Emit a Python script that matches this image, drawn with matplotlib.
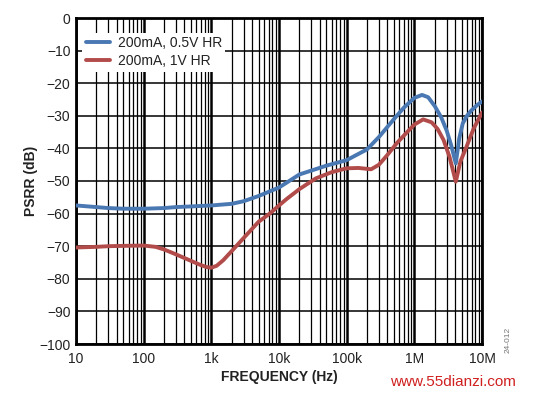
import numpy as np
import matplotlib.pyplot as plt
from matplotlib.ticker import FixedLocator, LogLocator, NullFormatter

plt.rcParams['font.family'] = ['Liberation Sans', 'DejaVu Sans']

# 読み取った値 (Hz, dB)
freq_blue = [10, 20, 30, 50, 100, 200, 300, 500, 1e3, 2e3, 3e3, 5e3, 1e4, 2e4, 5e4,
             1e5, 2e5, 3e5, 5e5, 7e5, 1e6, 1.3e6, 1.6e6, 2e6, 2.5e6, 3e6, 3.5e6, 4.1e6,
             4.6e6, 5.2e6, 6e6, 7e6, 8.5e6, 1e7]
psrr_blue = [-57.5, -58.0, -58.3, -58.5, -58.5, -58.3, -58.0, -57.8, -57.5, -57.0, -56.2,
             -54.6, -52.0, -48.0, -45.3, -43.6, -40.3, -36.5, -31.0, -27.5, -24.5, -23.6,
             -24.3, -27.0, -30.5, -34.5, -39.0, -44.6, -37.0, -32.3, -30.0, -28.3, -26.7,
             -25.6]

freq_red = [10, 20, 30, 50, 100, 150, 200, 300, 500, 700, 850, 1e3, 1.2e3, 1.5e3, 2e3,
            3e3, 5e3, 7.4e3, 1e4, 1.3e4, 2e4, 3.5e4, 6e4, 1e5, 1.5e5, 2.3e5, 3e5, 4e5,
            5.5e5, 8e5, 1e6, 1.35e6, 1.8e6, 2.2e6, 2.7e6, 3.3e6, 4.1e6, 4.8e6, 5.9e6,
            7.5e6, 1e7]
psrr_red = [-70.4, -70.2, -70.0, -69.9, -69.8, -70.2, -71.0, -72.5, -74.5, -75.8, -76.4,
            -76.6, -76.0, -74.3, -71.5, -67.5, -62.5, -59.9, -57.5, -55.5, -52.5, -49.2,
            -47.3, -46.1, -46.0, -46.4, -45.0, -42.0, -38.4, -34.8, -32.7, -31.1, -32.0,
            -34.0, -37.4, -42.5, -50.2, -44.0, -39.5, -34.0, -29.0]

labels = ['200mA, 0.5V HR', '200mA, 1V HR']
x_ticks = [10, 100, 1e3, 1e4, 1e5, 1e6, 1e7]
x_ticklabels = ['10', '100', '1k', '10k', '100k', '1M', '10M']
y_ticks = np.arange(-100, 1, 10)

fig = plt.figure(figsize=(5.42, 3.94), dpi=100)
ax = fig.add_axes([76 / 542, 50 / 394, 406 / 542, 326 / 394])

ax.plot(freq_blue, psrr_blue, color='#4a78b2', lw=2.8, label=labels[0], zorder=4,
        solid_capstyle='round', solid_joinstyle='round')
ax.plot(freq_red, psrr_red, color='#b24c4a', lw=2.8, label=labels[1], zorder=4,
        solid_capstyle='round', solid_joinstyle='round')

ax.set_xscale('log')
ax.set_xlim(10, 1e7)
ax.set_ylim(-100, 0)

# グリッド
ax.xaxis.set_major_locator(FixedLocator(x_ticks))
ax.xaxis.set_minor_locator(LogLocator(base=10, subs=np.arange(2, 10), numticks=20))
ax.xaxis.set_minor_formatter(NullFormatter())
ax.set_xticklabels(x_ticklabels)
ax.set_yticks(y_ticks)
ax.set_yticklabels([str(v).replace('-', '\u2212') for v in y_ticks])
ax.grid(which='major', axis='x', color='black', lw=1.8)
ax.grid(which='minor', axis='x', color='black', lw=0.9)
ax.grid(which='major', axis='y', color='black', lw=1.1)
ax.set_axisbelow(True)
ax.tick_params(which='both', length=0, labelsize=10, colors='#222222')
ax.tick_params(axis='y', pad=4)
ax.tick_params(axis='x', pad=6)

for s in ax.spines.values():
    s.set_linewidth(2.0)
    s.set_color('black')

ax.set_xlabel('FREQUENCY (Hz)', fontsize=10, fontweight='bold', color='#222222', labelpad=3)
ax.set_ylabel('PSRR (dB)', fontsize=10, fontweight='bold', color='#222222', labelpad=1)

leg = ax.legend(loc='upper left', bbox_to_anchor=(0.015, 0.955), fontsize=10,
                frameon=True, fancybox=False, framealpha=1, edgecolor='white',
                handlelength=1.75, handletextpad=0.55, borderpad=0.25, labelspacing=0.28,
                borderaxespad=0)
leg.get_frame().set_linewidth(0)
for t in leg.get_texts():
    t.set_color('#222222')

fig.text(508 / 542, 1 - 340 / 394, '24-012', rotation=90, fontsize=6, color='#777777',
         ha='center', va='center')
fig.text(453 / 542, 1 - 382 / 394, 'www.55dianzi.com', fontsize=11, color='#d02020',
         ha='center', va='center')

fig.savefig('out.png', dpi=100)
